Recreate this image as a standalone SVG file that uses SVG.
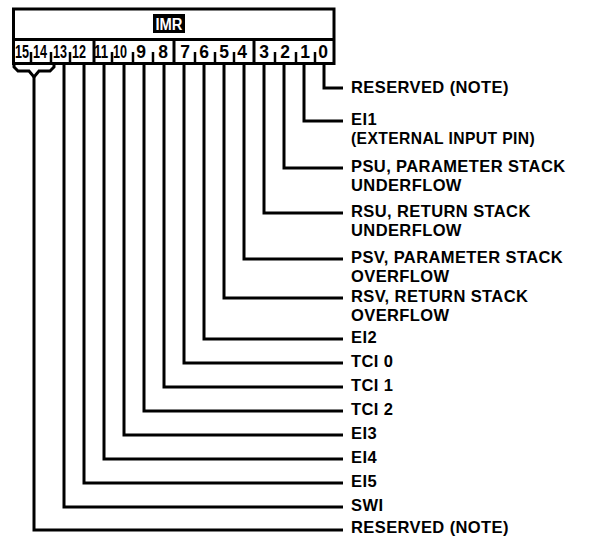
<svg xmlns="http://www.w3.org/2000/svg" width="590" height="537" viewBox="0 0 590 537">
<style>
.box{fill:#fff;stroke:#000;stroke-width:3}
.ln{fill:none;stroke:#000;stroke-width:3;stroke-linejoin:miter}
.tk{stroke:#000;stroke-width:2.5}
.lbl{font-family:"Liberation Sans",Arial,Helvetica,sans-serif;font-weight:bold;font-size:16.5px;letter-spacing:0.4px;fill:#000}
.dg{font-family:"Liberation Sans",Arial,Helvetica,sans-serif;font-weight:bold;font-size:17.5px;fill:#000;text-anchor:middle}
.imr{font-family:"Liberation Sans",Arial,Helvetica,sans-serif;font-weight:bold;font-size:16px;fill:#fff;text-anchor:middle}
</style>
<rect width="590" height="537" fill="#fff"/>
<g id="register">
<rect class="box" x="13.5" y="9" width="320.5" height="54.5"/>
<line class="ln" x1="13.5" y1="39.5" x2="334" y2="39.5"/>
<rect x="153" y="14" width="32" height="19" fill="#000"/>
<text class="imr" x="169" y="29.5" textLength="27" lengthAdjust="spacingAndGlyphs">IMR</text>
<line class="ln" x1="94" y1="39.5" x2="94" y2="63.5"/>
<line class="ln" x1="174" y1="39.5" x2="174" y2="63.5"/>
<line class="ln" x1="254" y1="39.5" x2="254" y2="63.5"/>
<g class="tk">
<line x1="31" y1="52" x2="31" y2="63"/>
<line x1="51" y1="52" x2="51" y2="63"/>
<line x1="70" y1="52" x2="70" y2="63"/>
<line x1="112" y1="52" x2="112" y2="63"/>
<line x1="133" y1="52" x2="133" y2="63"/>
<line x1="153" y1="52" x2="153" y2="63"/>
<line x1="195" y1="52" x2="195" y2="63"/>
<line x1="215" y1="52" x2="215" y2="63"/>
<line x1="234" y1="52" x2="234" y2="63"/>
<line x1="275" y1="52" x2="275" y2="63"/>
<line x1="296" y1="52" x2="296" y2="63"/>
<line x1="315" y1="52" x2="315" y2="63"/>
</g>
<text class="dg" x="22" y="58" textLength="14" lengthAdjust="spacingAndGlyphs">15</text>
<text class="dg" x="40" y="58" textLength="14" lengthAdjust="spacingAndGlyphs">14</text>
<text class="dg" x="60" y="58" textLength="14" lengthAdjust="spacingAndGlyphs">13</text>
<text class="dg" x="79" y="58" textLength="14" lengthAdjust="spacingAndGlyphs">12</text>
<text class="dg" x="101" y="58" textLength="14" lengthAdjust="spacingAndGlyphs">11</text>
<text class="dg" x="120" y="58" textLength="14" lengthAdjust="spacingAndGlyphs">10</text>
<text class="dg" x="141" y="58">9</text>
<text class="dg" x="163" y="58">8</text>
<text class="dg" x="185" y="58">7</text>
<text class="dg" x="204" y="58">6</text>
<text class="dg" x="224" y="58">5</text>
<text class="dg" x="242" y="58">4</text>
<text class="dg" x="264" y="58">3</text>
<text class="dg" x="285" y="58">2</text>
<text class="dg" x="305" y="58">1</text>
<text class="dg" x="323" y="58">0</text>
</g>
<g id="connectors">
<path class="ln" d="M324,63 V88 H343"/>
<path class="ln" d="M304,63 V121 H343"/>
<path class="ln" d="M284,63 V168 H343"/>
<path class="ln" d="M264,63 V213 H343"/>
<path class="ln" d="M244,63 V259 H343"/>
<path class="ln" d="M224,63 V298 H343"/>
<path class="ln" d="M204,63 V339 H343"/>
<path class="ln" d="M184,63 V363 H343"/>
<path class="ln" d="M164,63 V387 H343"/>
<path class="ln" d="M144,63 V411 H343"/>
<path class="ln" d="M124,63 V435 H343"/>
<path class="ln" d="M104,63 V459 H343"/>
<path class="ln" d="M84,63 V483 H343"/>
<path class="ln" d="M64,63 V507 H343"/>
<path class="ln" d="M14,63 V67 L18,71 H29 L34,77 L39,71 H50 L54,67 V63"/>
<path class="ln" d="M34,77 V530 H343"/>
</g>
<g id="bit0"><text class="lbl" x="351" y="93">RESERVED (NOTE)</text></g>
<g id="bit1"><text class="lbl" x="351" y="125">EI1</text><text class="lbl" x="351" y="144" textLength="184" lengthAdjust="spacingAndGlyphs">(EXTERNAL INPUT PIN)</text></g>
<g id="bit2"><text class="lbl" x="351" y="172">PSU, PARAMETER STACK</text><text class="lbl" x="351" y="191">UNDERFLOW</text></g>
<g id="bit3"><text class="lbl" x="351" y="217">RSU, RETURN STACK</text><text class="lbl" x="351" y="236">UNDERFLOW</text></g>
<g id="bit4"><text class="lbl" x="351" y="263">PSV, PARAMETER STACK</text><text class="lbl" x="351" y="282">OVERFLOW</text></g>
<g id="bit5"><text class="lbl" x="351" y="302">RSV, RETURN STACK</text><text class="lbl" x="351" y="321">OVERFLOW</text></g>
<g id="bit6"><text class="lbl" x="351" y="343">EI2</text></g>
<g id="bit7"><text class="lbl" x="351" y="367">TCI 0</text></g>
<g id="bit8"><text class="lbl" x="351" y="391">TCI 1</text></g>
<g id="bit9"><text class="lbl" x="351" y="415">TCI 2</text></g>
<g id="bit10"><text class="lbl" x="351" y="439">EI3</text></g>
<g id="bit11"><text class="lbl" x="351" y="463">EI4</text></g>
<g id="bit12"><text class="lbl" x="351" y="487">EI5</text></g>
<g id="bit13"><text class="lbl" x="351" y="511">SWI</text></g>
<g id="bit15-14"><text class="lbl" x="351" y="533">RESERVED (NOTE)</text></g>
</svg>
